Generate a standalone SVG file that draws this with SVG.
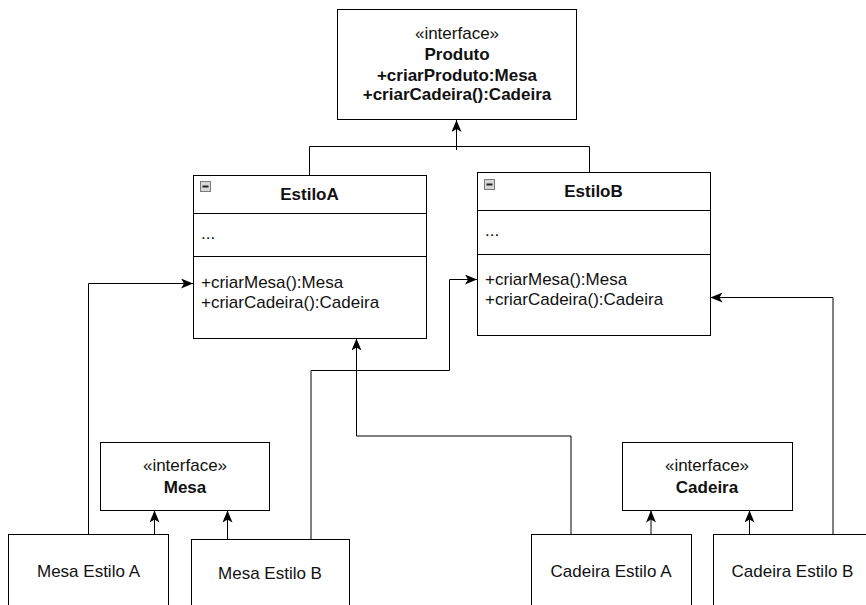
<svg xmlns="http://www.w3.org/2000/svg" width="866" height="605" viewBox="0 0 866 605">
  <style>
    text { font-family: "Liberation Sans", Arial, sans-serif; font-size: 17px; fill: #111; }
    .b { font-weight: bold; }
    .c { text-anchor: middle; }
    .box { fill: #fff; stroke: #000; stroke-width: 1; }
    .sep { stroke: #000; stroke-width: 1; fill: none; }
    .edge { fill: none; stroke: #000; stroke-width: 1; }
    .icon { fill: #d8d8d8; stroke: #7a7a7a; stroke-width: 1; }
    .dash { stroke: #222; stroke-width: 2; }
  </style>
  <defs>
    <marker id="arrow" viewBox="0 0 12 10" refX="12" refY="5" markerWidth="12" markerHeight="10" markerUnits="userSpaceOnUse" orient="auto">
      <path d="M0,0 L12,5 L0,10 L3,5 z" fill="#000"/>
    </marker>
  </defs>

  <rect width="866" height="605" fill="#fff"/>

  <!-- connectors -->
  <g id="connectors">
    <!-- EstiloA / EstiloB -> Produto -->
    <path class="edge" d="M309.5,175 V146.5 H589.5 V172"/>
    <path class="edge" d="M456.5,150 V120" marker-end="url(#arrow)"/>
    <!-- Mesa Estilo A -> EstiloA -->
    <path class="edge" d="M88.5,534 V283.5 H193" marker-end="url(#arrow)"/>
    <!-- Mesa Estilo B -> EstiloB -->
    <path class="edge" d="M311,539 V370.5 H449.5 V279.5 H477" marker-end="url(#arrow)"/>
    <!-- Cadeira Estilo A -> EstiloA -->
    <path class="edge" d="M571,534 V436 H356.5 V338.5" marker-end="url(#arrow)"/>
    <!-- Cadeira Estilo B -> EstiloB -->
    <path class="edge" d="M833,534 V297.5 H710.5" marker-end="url(#arrow)"/>
    <!-- implementations -> interfaces -->
    <path class="edge" d="M154.5,534 V510.5" marker-end="url(#arrow)"/>
    <path class="edge" d="M227.5,539 V510.5" marker-end="url(#arrow)"/>
    <path class="edge" d="M651,534 V510.5" marker-end="url(#arrow)"/>
    <path class="edge" d="M749.5,534 V510.5" marker-end="url(#arrow)"/>
  </g>

  <!-- Produto interface -->
  <g id="produto">
    <rect class="box" x="337.5" y="9.5" width="239" height="110"/>
    <text class="c" x="457" y="39">«interface»</text>
    <text class="c b" x="457" y="59.5">Produto</text>
    <text class="c b" x="457" y="80.5">+criarProduto:Mesa</text>
    <text class="c b" x="457" y="100">+criarCadeira():Cadeira</text>
  </g>

  <!-- EstiloA class -->
  <g id="estiloA">
    <rect class="box" x="193.5" y="175.5" width="233" height="163"/>
    <line class="sep" x1="193.5" y1="213.5" x2="426.5" y2="213.5"/>
    <line class="sep" x1="193.5" y1="256.5" x2="426.5" y2="256.5"/>
    <rect class="icon" x="200.5" y="181.5" width="10" height="10"/>
    <line class="dash" x1="202.5" y1="186.5" x2="208.5" y2="186.5"/>
    <text class="c b" x="309.5" y="200">EstiloA</text>
    <text x="201" y="239">...</text>
    <text x="201" y="288">+criarMesa():Mesa</text>
    <text x="201" y="308">+criarCadeira():Cadeira</text>
  </g>

  <!-- EstiloB class -->
  <g id="estiloB">
    <rect class="box" x="477.5" y="172.5" width="233" height="163"/>
    <line class="sep" x1="477.5" y1="210.5" x2="710.5" y2="210.5"/>
    <line class="sep" x1="477.5" y1="254.5" x2="710.5" y2="254.5"/>
    <rect class="icon" x="484.5" y="179.5" width="10" height="10"/>
    <line class="dash" x1="486.5" y1="184.5" x2="492.5" y2="184.5"/>
    <text class="c b" x="593.5" y="197">EstiloB</text>
    <text x="485" y="236">...</text>
    <text x="485" y="285">+criarMesa():Mesa</text>
    <text x="485" y="305">+criarCadeira():Cadeira</text>
  </g>

  <!-- Mesa interface -->
  <g id="mesa">
    <rect class="box" x="100.5" y="442.5" width="169" height="68"/>
    <text class="c" x="185" y="471">«interface»</text>
    <text class="c b" x="185" y="493">Mesa</text>
  </g>

  <!-- Cadeira interface -->
  <g id="cadeira">
    <rect class="box" x="622.5" y="442.5" width="170" height="68"/>
    <text class="c" x="707" y="471">«interface»</text>
    <text class="c b" x="707" y="493">Cadeira</text>
  </g>

  <!-- concrete products -->
  <g id="mesaEstiloA">
    <rect class="box" x="8.5" y="534.5" width="160" height="80"/>
    <text class="c" x="88.5" y="577">Mesa Estilo A</text>
  </g>
  <g id="mesaEstiloB">
    <rect class="box" x="191.5" y="539.5" width="158" height="80"/>
    <text class="c" x="270" y="579">Mesa Estilo B</text>
  </g>
  <g id="cadeiraEstiloA">
    <rect class="box" x="531.5" y="534.5" width="160" height="80"/>
    <text class="c" x="611" y="577">Cadeira Estilo A</text>
  </g>
  <g id="cadeiraEstiloB">
    <rect class="box" x="713.5" y="534.5" width="160" height="80"/>
    <text class="c" x="792.5" y="577">Cadeira Estilo B</text>
  </g>
</svg>
